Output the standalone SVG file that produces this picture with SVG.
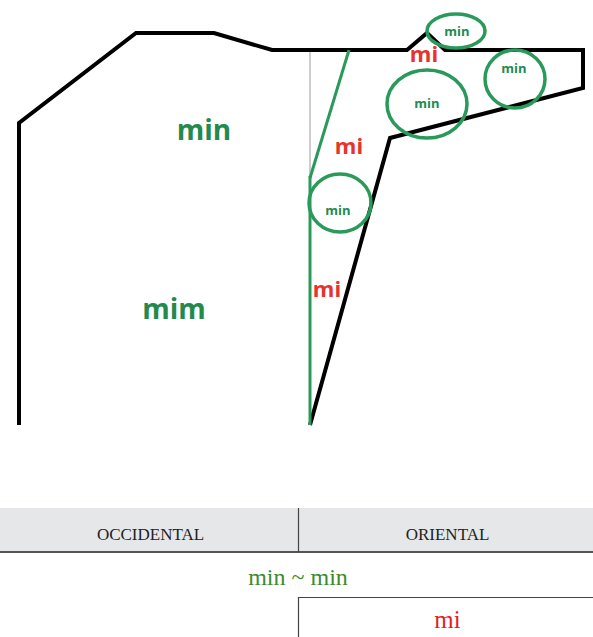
<svg xmlns="http://www.w3.org/2000/svg" width="593" height="637" viewBox="0 0 593 637">
<style>
.outline{fill:none;stroke:#000;stroke-width:4;stroke-linejoin:miter}
.gl{fill:none;stroke:#2a9a5a;stroke-width:3}
.circ{fill:none;stroke:#2a9a5a;stroke-width:3.5}
.sm{font-family:"Open Sans","Liberation Sans",sans-serif;font-weight:bold;fill:#238a4e;font-size:13px;text-anchor:middle}
.big{font-family:"Open Sans","Liberation Sans",sans-serif;font-weight:bold;fill:#238a4e;font-size:28px;text-anchor:middle}
.red{font-family:"Open Sans","Liberation Sans",sans-serif;font-weight:bold;fill:#e8322c;font-size:22px;text-anchor:middle}
.ser{font-family:"Liberation Serif",serif;text-anchor:middle}
</style>
<rect width="593" height="637" fill="#fff"/>
<g id="section">
<line x1="310" y1="50" x2="310" y2="176" stroke="#9a9a9a" stroke-width="1"/>
<path class="outline" d="M19,425 L19,123 L136,33 L214,33 L272,50 L407,50 L427,33 L445,50 L583,50 L583,88 L390,138 L310,425"/>
<line class="gl" x1="310" y1="176" x2="310" y2="425"/>
<line class="gl" x1="349" y1="50" x2="310" y2="178"/>
</g>
<g id="circle-top"><ellipse class="circ" cx="456" cy="31" rx="29" ry="17"/><text class="sm" x="457" y="36">min</text></g>
<g id="circle-right"><ellipse class="circ" cx="515" cy="79" rx="30" ry="29"/><text class="sm" x="514" y="73">min</text></g>
<g id="circle-mid"><ellipse class="circ" cx="427" cy="104" rx="40" ry="34"/><text class="sm" x="427" y="108">min</text></g>
<g id="circle-low"><ellipse class="circ" cx="340" cy="203" rx="31" ry="29"/><text class="sm" x="338" y="215">min</text></g>
<g id="labels">
<text class="big" x="204" y="140">min</text>
<text class="big" x="174" y="319">mim</text>
<text class="red" x="424" y="62">mi</text>
<text class="red" x="349" y="154">mi</text>
<text class="red" x="327" y="297">mi</text>
</g>
<g id="table">
<rect x="0" y="508" width="593" height="44" fill="#e6e7e9"/>
<line x1="0" y1="552" x2="593" y2="552" stroke="#555" stroke-width="2"/>
<line x1="298.5" y1="508" x2="298.5" y2="552" stroke="#444" stroke-width="1.2"/>
<text class="ser" x="150.5" y="540" font-size="17" fill="#222">OCCIDENTAL</text>
<text class="ser" x="447.5" y="540" font-size="17" fill="#222">ORIENTAL</text>
<text class="ser" x="298" y="585" font-size="24" fill="#3d8a2e">min ~ min</text>
<path d="M298.5,637 L298.5,597.5 L593,597.5" fill="none" stroke="#444" stroke-width="1.2"/>
<text class="ser" x="447.5" y="628" font-size="25" fill="#e41e26">mi</text>
</g>
</svg>
